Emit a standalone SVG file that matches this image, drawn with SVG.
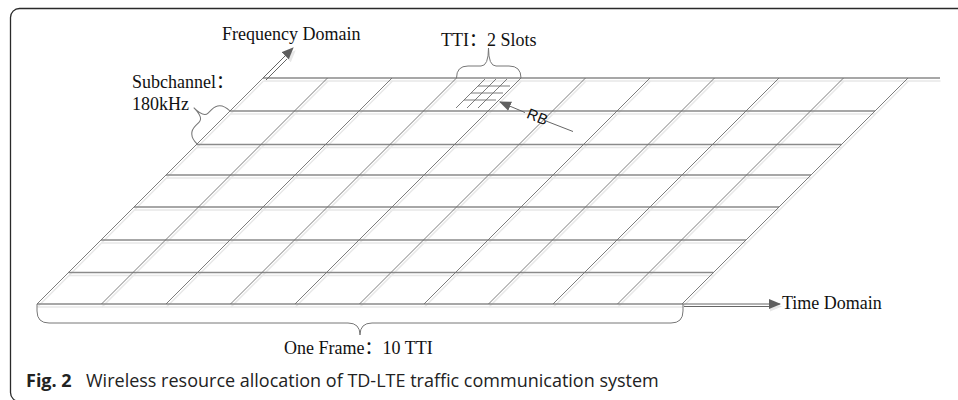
<svg xmlns="http://www.w3.org/2000/svg" width="958" height="400" viewBox="0 0 958 400">
<style>
.serif{font-family:"Liberation Serif","Noto Sans CJK SC",serif;font-size:18px;fill:#111}
.sans{font-family:"Liberation Sans",Arial,sans-serif;font-size:15px;fill:#111}
.cap{font-family:"Open Sans","Noto Sans",sans-serif;font-size:18px;fill:#222}
.h{stroke:#8a8a8a;stroke-width:1.3;fill:none}
.s{stroke:#6e6e6e;stroke-width:0.9;fill:none}
.sh{stroke:#e8e8e8;stroke-width:1.5;fill:none}
.br{stroke:#777;stroke-width:1;fill:none}
.ar{stroke:#666;stroke-width:1;fill:none}
</style>
<defs>
<marker id="ah" viewBox="0 0 12 10" refX="11" refY="5" markerWidth="12" markerHeight="10" markerUnits="userSpaceOnUse" orient="auto">
<path d="M0,0 L12,5 L0,10 Z" fill="#5f5f5f"/>
</marker>
<marker id="ahs" viewBox="0 0 12 10" refX="11" refY="5" markerWidth="12" markerHeight="10" markerUnits="userSpaceOnUse" orient="auto">
<path d="M0,0 L12,5 L0,10 Z" fill="#e8e8e8"/>
</marker>
</defs>
<rect width="958" height="400" fill="#fff"/>
<rect x="10.5" y="8.5" width="970" height="393" rx="9" fill="none" stroke="#2a2a2a" stroke-width="1.3"/>

<g id="grid-shadow" class="sh" transform="translate(0.5,3)">
<path d="M263,78H940M230,111H875M196.5,144.5H841.5M166,175H811M134,207H779M101,240H746M68.5,272.5H713.5M37,304H683"/>
<path d="M263,78L37,304M327.5,78L101.5,304M392,78L166,304M456.5,78L230.5,304M521,78L295,304M585.5,78L359.5,304M650,78L424,304M714.5,78L488.5,304M779,78L553,304M843.5,78L617.5,304M908,78L682,304"/>
</g>
<g id="grid">
<path class="h" d="M263,78H940M230,111H875M196.5,144.5H841.5M166,175H811M134,207H779M101,240H746M68.5,272.5H713.5M37,304H683"/>
<path class="s" d="M263,78L37,304M327.5,78L101.5,304M392,78L166,304M456.5,78L230.5,304M521,78L295,304M585.5,78L359.5,304M650,78L424,304M714.5,78L488.5,304M779,78L553,304M843.5,78L617.5,304M908,78L682,304"/>
</g>
<g id="rb-cells">
<path class="s" d="M485,79L456,108M496,79L467,108M507,79L478,108M478,86H510M471,93H503M464,100H496"/>
</g>

<g id="braces">
<path id="brace-tti" class="br" d="M456.5,78 Q456.5,66 468,66 L481,66 Q488.5,66 488.5,48 Q488.5,66 496,66 L509,66 Q521,66 521,78"/>
<path id="brace-sub" class="br" transform="translate(230,111) rotate(135)" d="M0,0 Q0,14 12,14 L17,14 Q23.3,14 23.3,28 Q23.3,14 29.6,14 L34.6,14 Q46.6,14 46.6,0"/>
<path id="brace-frame" class="br" d="M37,304 L37,311 Q37,323 49,323 L348,323 Q360,323 360,335 Q360,323 372,323 L671,323 Q683,323 683,311 L683,304"/>
</g>

<g id="connectors">
<path class="ar" stroke="#eeeeee" d="M266,80 L295,51" marker-end="url(#ahs)"/>
<path class="ar" d="M263,78 L293,48" marker-end="url(#ah)"/>
<path class="ar" stroke="#eeeeee" d="M684,306.5 L781,306.5" marker-end="url(#ahs)"/>
<path class="ar" d="M683,304 L780,304" marker-end="url(#ah)"/>
<path class="ar" d="M573,131.5 L546,121"/>
<path class="ar" d="M525,112.5 L500,102" marker-end="url(#ah)"/>
</g>

<g id="label-freq"><text class="serif" x="222" y="40">Frequency Domain</text></g>
<g id="label-tti"><text class="serif" x="441" y="46">TTI：2 Slots</text></g>
<g id="label-sub"><text class="serif" x="132" y="88">Subchannel：</text><text class="serif" x="132" y="110">180kHz</text></g>
<g id="label-rb"><text class="sans" x="0" y="0" text-anchor="middle" transform="translate(535.5,121.5) rotate(22)">RB</text></g>
<g id="label-time"><text class="serif" x="782" y="309">Time Domain</text></g>
<g id="label-frame"><text class="serif" x="284" y="354">One Frame：10 TTI</text></g>
<g id="caption"><text class="cap" x="26" y="386.5"><tspan font-weight="bold">Fig. 2</tspan><tspan x="86">Wireless resource allocation of TD-LTE traffic communication system</tspan></text></g>
</svg>
